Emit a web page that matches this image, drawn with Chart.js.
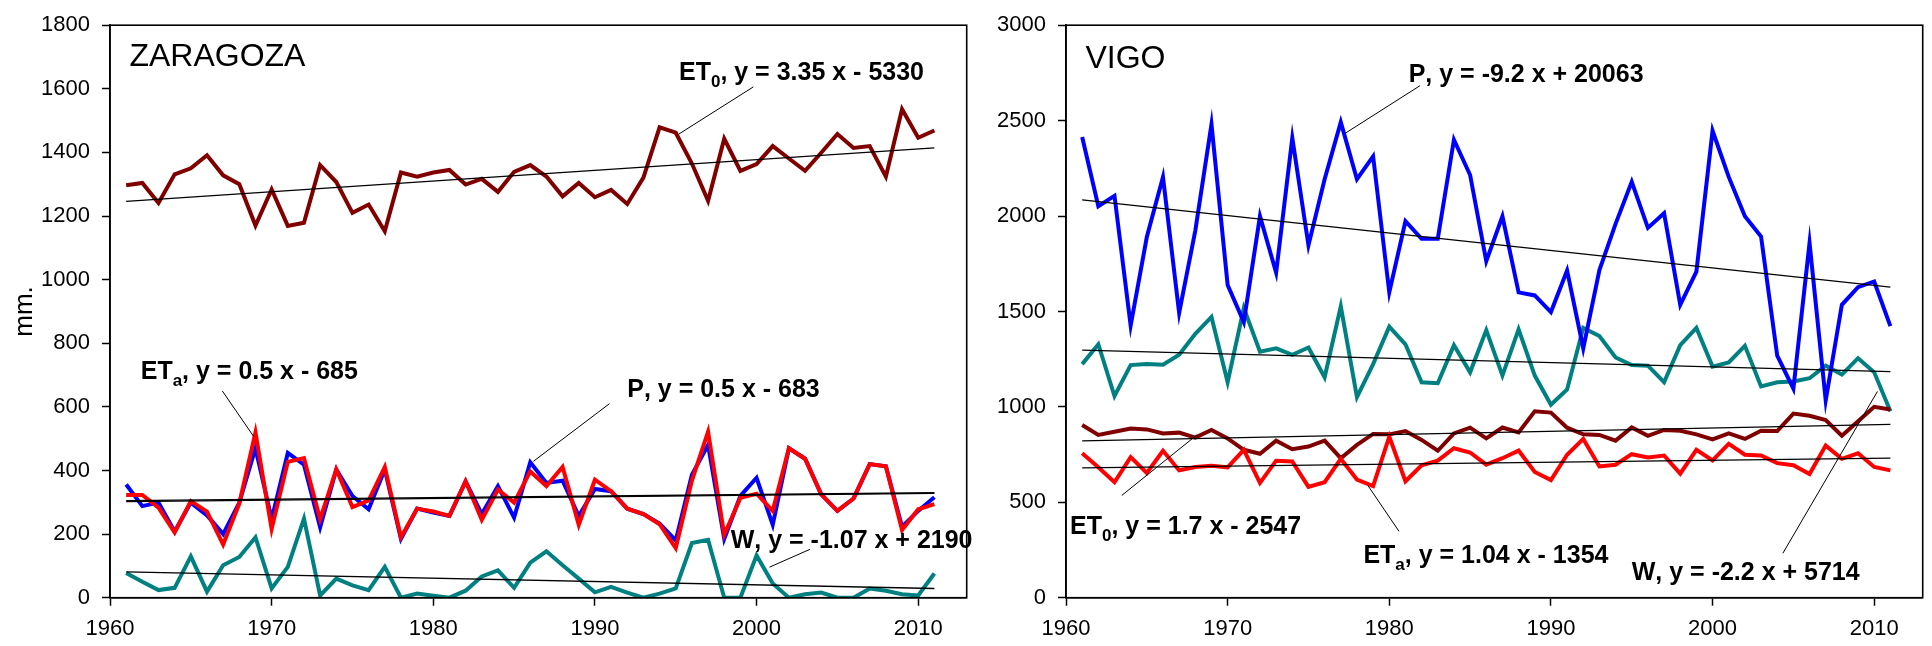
<!DOCTYPE html>
<html>
<head>
<meta charset="utf-8">
<title>ET0, ETa, P, W - Zaragoza / Vigo</title>
<script src="https://cdn.jsdelivr.net/npm/chart.js@4.4.1/dist/chart.umd.min.js"></script>
<style>
    body { margin: 0; background: #ffffff; width: 1932px; height: 646px; overflow: hidden; position: relative; }
    canvas { position: absolute; top: 0; }
    #zaragozaChart { left: 0; }
    #vigoChart { left: 975px; }
</style>
</head>
<body>
<canvas id="zaragozaChart" width="975" height="646"></canvas>
<canvas id="vigoChart" width="957" height="646"></canvas>
<script>
// Años (eje X)
const years = [1961, 1962, 1963, 1964, 1965, 1966, 1967, 1968, 1969, 1970,
    1971, 1972, 1973, 1974, 1975, 1976, 1977, 1978, 1979, 1980,
    1981, 1982, 1983, 1984, 1985, 1986, 1987, 1988, 1989, 1990,
    1991, 1992, 1993, 1994, 1995, 1996, 1997, 1998, 1999, 2000,
    2001, 2002, 2003, 2004, 2005, 2006, 2007, 2008, 2009, 2010, 2011];
const trendYears = [1961, 2011];

// ZARAGOZA (mm)
const zarET0 = [1297, 1304, 1241, 1331, 1350, 1391, 1328, 1300, 1170, 1284, 1169, 1179, 1360, 1307, 1210, 1236, 1152, 1337, 1324, 1337, 1345, 1299, 1317, 1276,
    1339, 1360, 1324, 1262, 1304, 1259, 1282, 1238, 1321, 1479, 1462, 1365, 1248, 1443, 1342, 1363, 1420, 1381, 1342, 1399, 1458, 1414, 1420, 1324, 1536, 1446, 1469];
const zarP = [356, 288, 299, 208, 299, 259, 200, 299, 470, 247, 455, 418, 221, 403, 320, 278, 403, 185, 280, 268, 257, 366, 263, 351,
    252, 426, 361, 368, 257, 342, 335, 280, 263, 233, 180, 387, 480, 185, 320, 377, 229, 470, 437, 325, 273, 312, 420, 413, 223, 273, 316];
const zarETa = [323, 323, 283, 205, 304, 271, 167, 296, 520, 216, 427, 439, 247, 403, 285, 306, 411, 190, 280, 271, 257, 366, 245, 340,
    299, 397, 351, 411, 229, 371, 335, 280, 263, 231, 156, 368, 522, 198, 314, 327, 273, 470, 437, 325, 273, 312, 420, 413, 213, 278, 294];
const zarW = [78, 50, 24, 31, 130, 19, 102, 128, 190, 29, 97, 249, 7, 60, 39, 24, 97, 0, 13, 6, 0, 22, 67, 86,
    31, 110, 146, 102, 60, 17, 34, 16, 0, 13, 29, 172, 182, 0, 0, 133, 45, 0, 11, 16, 0, 0, 29, 22, 11, 7, 76];
const zarTrendET0 = [1246, 1414];
const zarTrendP = [305, 330];
const zarTrendETa = [302, 328];
const zarTrendW = [81, 29];
const zarTicks = [0, 200, 400, 600, 800, 1000, 1200, 1400, 1600, 1800];

// VIGO (mm)
const vigoP = [2414, 2051, 2106, 1426, 1890, 2205, 1492, 1924, 2481, 1639, 1444, 1999, 1703, 2409, 1847, 2193, 2492, 2193, 2313, 1600, 1973, 1881, 1881, 2400,
    2215, 1764, 1999, 1600, 1584, 1497, 1714, 1306, 1717, 1959, 2179, 1938, 2015, 1535, 1709, 2447, 2205, 1999, 1893, 1268, 1095, 1859, 1034, 1535, 1627, 1657, 1423];
const vigoW = [1224, 1328, 1057, 1219, 1224, 1221, 1273, 1383, 1471, 1129, 1518, 1289, 1307, 1273, 1311, 1155, 1527, 1051, 1224, 1420, 1328, 1129, 1124, 1323,
    1181, 1402, 1164, 1406, 1164, 1011, 1091, 1414, 1371, 1259, 1219, 1216, 1129, 1323, 1414, 1211, 1233, 1320, 1107, 1129, 1133, 1150, 1216, 1169, 1255, 1181, 977];
const vigoET0 = [905, 853, 870, 887, 882, 861, 865, 839, 879, 835, 775, 754, 823, 778, 792, 823, 731, 801, 858, 856, 873, 827, 770, 861,
    891, 835, 892, 866, 977, 970, 891, 856, 853, 823, 892, 848, 879, 875, 856, 830, 861, 832, 875, 873, 965, 953, 931, 849, 925, 1000, 986];
const vigoETa = [757, 683, 605, 737, 654, 770, 667, 685, 692, 683, 775, 602, 718, 714, 581, 605, 728, 619, 585, 844, 610, 694, 718, 783,
    761, 697, 731, 771, 659, 616, 749, 832, 688, 697, 752, 735, 745, 650, 775, 719, 806, 749, 745, 705, 694, 648, 797, 728, 757, 685, 667];
const vigoTrendP = [2085, 1627];
const vigoTrendW = [1297, 1185];
const vigoTrendET0 = [822, 908];
const vigoTrendETa = [680, 731];
const vigoTicks = [0, 500, 1000, 1500, 2000, 2500, 3000];

const xTicks = [1960, 1970, 1980, 1990, 2000, 2010];

const FONT = "'Liberation Sans', Arial, Helvetica, sans-serif";
const COLORS = { et0: '#800000', p: '#0000ff', eta: '#ff0000', w: '#008080' };

Chart.defaults.font.family = FONT;
Chart.defaults.color = '#000000';

// Serie anual
function serie(values, color) {
    return {
        data: values.map((v, i) => ({ x: years[i], y: v })),
        borderColor: color,
        borderWidth: 4,
        pointRadius: 0,
        tension: 0,
        fill: false
    };
}

// Recta de tendencia
function trend(values) {
    return {
        data: values.map((v, i) => ({ x: trendYears[i], y: v })),
        borderColor: '#000000',
        borderWidth: 1.3,
        pointRadius: 0,
        fill: false
    };
}

// Marco, nombre de estación, título Y y ecuaciones
const notesPlugin = {
    id: 'notes',
    afterDatasetsDraw(chart, args, opts) {
        const ctx = chart.ctx;
        const a = chart.chartArea;
        const sx = chart.scales.x;
        const sy = chart.scales.y;
        ctx.save();
        ctx.strokeStyle = '#000000';
        ctx.lineWidth = 1.6;
        ctx.strokeRect(a.left, a.top, a.right - a.left, a.bottom - a.top);

        ctx.fillStyle = '#000000';
        ctx.textAlign = 'left';
        ctx.textBaseline = 'alphabetic';
        ctx.font = '32px ' + FONT;
        ctx.fillText(opts.station, sx.getPixelForValue(opts.stationAt[0]), sy.getPixelForValue(opts.stationAt[1]));

        if (opts.yTitle) {
            ctx.save();
            ctx.translate(opts.yTitleX, (a.top + a.bottom) / 2);
            ctx.rotate(-Math.PI / 2);
            ctx.textAlign = 'center';
            ctx.font = '26px ' + FONT;
            ctx.fillText(opts.yTitle, 0, 0);
            ctx.restore();
        }

        opts.notes.forEach(n => {
            ctx.lineWidth = 1;
            ctx.beginPath();
            ctx.moveTo(sx.getPixelForValue(n.from[0]), sy.getPixelForValue(n.from[1]));
            ctx.lineTo(sx.getPixelForValue(n.to[0]), sy.getPixelForValue(n.to[1]));
            ctx.stroke();

            let px = sx.getPixelForValue(n.at[0]);
            const py = sy.getPixelForValue(n.at[1]);
            ctx.font = 'bold 25px ' + FONT;
            ctx.fillText(n.name, px, py);
            px += ctx.measureText(n.name).width;
            if (n.sub) {
                ctx.font = 'bold 17px ' + FONT;
                ctx.fillText(n.sub, px, py + 7);
                px += ctx.measureText(n.sub).width;
                ctx.font = 'bold 25px ' + FONT;
            }
            ctx.fillText(n.eq, px, py);
        });
        ctx.restore();
    }
};

function buildOptions(yMax, yTicks, yAxisWidth, rightPad, notes) {
    return {
        responsive: false,
        animation: false,
        layout: { padding: { top: 19.5, right: rightPad, left: 0, bottom: 0 } },
        plugins: {
            legend: { display: false },
            tooltip: { enabled: false },
            notes: notes
        },
        scales: {
            x: {
                type: 'linear',
                min: 1960,
                max: 2013,
                afterBuildTicks: s => { s.ticks = xTicks.map(v => ({ value: v })); },
                afterFit: s => { s.height = 48.3; },
                ticks: { font: { size: 22 }, color: '#000', padding: 10, maxRotation: 0, callback: v => String(v) },
                grid: { display: true, drawOnChartArea: false, drawTicks: true, tickLength: 8, tickWidth: 1.5, tickColor: '#000' },
                border: { display: true, color: '#000', width: 1.6 }
            },
            y: {
                min: 0,
                max: yMax,
                afterBuildTicks: s => { s.ticks = yTicks.map(v => ({ value: v })); },
                afterFit: s => { s.width = yAxisWidth; },
                ticks: { font: { size: 22 }, color: '#000', padding: 12, callback: v => String(v) },
                grid: { display: true, drawOnChartArea: false, drawTicks: true, tickLength: 8, tickWidth: 1.5, tickColor: '#000' },
                border: { display: true, color: '#000', width: 1.6 }
            }
        }
    };
}

// ZARAGOZA
new Chart(document.getElementById('zaragozaChart'), {
    type: 'line',
    data: {
        datasets: [
            trend(zarTrendET0), trend(zarTrendP), trend(zarTrendETa), trend(zarTrendW),
            serie(zarETa, COLORS.eta),
            serie(zarP, COLORS.p),
            serie(zarW, COLORS.w),
            serie(zarET0, COLORS.et0)
        ]
    },
    options: buildOptions(1800, zarTicks, 110, 8.3, {
        station: 'ZARAGOZA',
        stationAt: [1961.2, 1672],
        yTitle: 'mm.',
        yTitleX: 31.7,
        notes: [
            { name: 'ET', sub: '0', eq: ', y = 3.35 x - 5330', at: [1995.2, 1627], from: [1999.8, 1606], to: [1995.2, 1458] },
            { name: 'ET', sub: 'a', eq: ', y = 0.5 x - 685', at: [1961.9, 688], from: [1966.95, 650], to: [1968.9, 506] },
            { name: 'P', eq: ', y = 0.5 x - 683', at: [1992.0, 631], from: [1990.9, 610], to: [1986.2, 429] },
            { name: 'W', eq: ', y = -1.07 x + 2190', at: [1998.4, 156], from: [2003.3, 152], to: [2000.8, 96] }
        ]
    }),
    plugins: [notesPlugin]
});

// VIGO
new Chart(document.getElementById('vigoChart'), {
    type: 'line',
    data: {
        datasets: [
            trend(vigoTrendP), trend(vigoTrendW), trend(vigoTrendET0), trend(vigoTrendETa),
            serie(vigoP, COLORS.p),
            serie(vigoETa, COLORS.eta),
            serie(vigoET0, COLORS.et0),
            serie(vigoW, COLORS.w)
        ]
    },
    options: buildOptions(3000, vigoTicks, 91, 9.3, {
        station: 'VIGO',
        stationAt: [1961.2, 2775],
        notes: [
            { name: 'P', eq: ', y = -9.2 x + 20063', at: [1981.2, 2701], from: [1981.9, 2683], to: [1977.3, 2435] },
            { name: 'ET', sub: '0', eq: ', y = 1.7 x - 2547', at: [1960.25, 334], from: [1963.45, 536], to: [1968.1, 853] },
            { name: 'ET', sub: 'a', eq: ', y = 1.04 x - 1354', at: [1978.4, 182], from: [1980.6, 348], to: [1978.7, 585] },
            { name: 'W', eq: ', y = -2.2 x + 5714', at: [1995.0, 95], from: [2004.35, 233], to: [2010.2, 1081] }
        ]
    }),
    plugins: [notesPlugin]
});
</script>
</body>
</html>
